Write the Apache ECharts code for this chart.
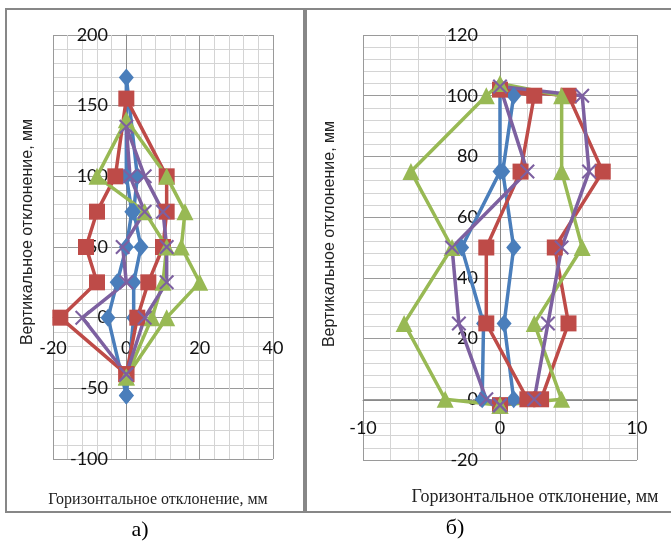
<!DOCTYPE html>
<html>
<head>
<meta charset="utf-8">
<script src="https://cdn.jsdelivr.net/npm/echarts@6/dist/echarts.min.js"></script>
<style>
  html, body { margin: 0; padding: 0; background: #fff; }
  #chart { width: 671px; height: 542px; }
</style>
</head>
<body>
<div id="chart"></div>
<script>
// а) — points go: bottom, left side up, top, right side down, back to bottom
var aBlue   = [[0,-55],[-5,0],[-2.5,25],[0,50],[1.5,75],[0,100],[0,170],[3,100],[2,75],[4,50],[2,25],[2,0],[0,-55]];
var aRed    = [[0,-40],[-18,0],[-8,25],[-11,50],[-8,75],[-3,100],[0,155],[11,100],[11,75],[10,50],[6,25],[3,0],[0,-40]];
var aGreen  = [[0,-42],[7,0],[10,25],[11,50],[5,75],[-8,100],[0,140],[11,100],[16,75],[15,50],[20,25],[11,0],[0,-42]];
var aPurple = [[0,-40],[-12,0],[0,25],[-1,50],[5,75],[1,100],[0,135],[5,100],[10,75],[11,50],[11,25],[5,0],[0,-40]];

// б)
var bBlue   = [[0,-2],[-1.3,0],[-1.2,25],[-2.8,50],[0,75],[0,103],[1,100],[0.2,75],[1,50],[0.3,25],[1,0],[0,-2]];
var bRed    = [[0,-2],[2,0],[-1,25],[-1,50],[1.5,75],[2.5,100],[0,102],[5,100],[7.5,75],[4,50],[5,25],[3,0],[0,-2]];
var bGreen  = [[0,-2],[-4,0],[-7,25],[-3.5,50],[-6.5,75],[-1,100],[0,104],[4.5,100],[4.5,75],[6,50],[2.5,25],[4.5,0],[0,-2]];
var bPurple = [[0,-2],[-1,0],[-3,25],[-3.5,50],[2,75],[0,103],[6,100],[6.5,75],[4.5,50],[3.5,25],[2.5,0],[0,-2]];

var xTitle = "Горизонтальное отклонение, мм";
var yTitle = "Вертикальное отклонение, мм";

var chart = echarts.init(document.getElementById("chart"));

var crossMark = "path://M0,1 L1,0 L5,4 L9,0 L10,1 L6,5 L10,9 L9,10 L5,6 L1,10 L0,9 L4,5 Z";

function mk(data, color, symbol, size, idx) {
  return {
    type: "line",
    xAxisIndex: idx,
    yAxisIndex: idx,
    data: data,
    symbol: symbol,
    symbolSize: size,
    showAllSymbol: true,
    lineStyle: { color: color, width: 3.5 },
    itemStyle: { color: color },
    animation: false,
    silent: true,
  };
}

// оси: положение нуля задаём через offset
function ax(idx, min, max, interval, margin, offset, pos) {
  return {
    type: "value",
    gridIndex: idx,
    position: pos,
    offset: offset,
    min: min,
    max: max,
    interval: interval,
    axisLine: { onZero: false, lineStyle: { color: "#8a8a8a", width: 1 } },
    axisTick: { show: false },
    axisLabel: {
      color: "#111",
      fontFamily: "Lato",
      fontSize: 18,
      margin: margin,
      showMinLabel: true,
      showMaxLabel: true,
    },
    splitLine: { show: true, lineStyle: { color: "#9a9a9a", width: 1 } },
    minorTick: { show: false, splitNumber: 5 },
    minorSplitLine: { show: true, lineStyle: { color: "#d4d4d4", width: 1 } },
  };
}

var opt = {
  backgroundColor: "#fff",
  animation: false,
  grid: [
    { left: 53, top: 35, width: 220, height: 424, show: false, outerBoundsMode: "none", containLabel: false },
    { left: 363, top: 35, width: 274, height: 425, show: false, outerBoundsMode: "none", containLabel: false },
  ],
  xAxis: [
    ax(0, -20, 40, 20, 22, -142, "bottom"),
    ax(1, -10, 10, 10, 19, -60, "bottom"),
  ],
  yAxis: [
    ax(0, -100, 200, 50, 18, -73, "left"),
    ax(1, -20, 120, 20, 22, -137, "left"),
  ],
  series: [
    mk(aBlue, "#4a7ebb", "diamond", [15, 18], 0),
    mk(aRed, "#be4b48", "rect", 16, 0),
    mk(aGreen, "#98b954", "triangle", 17, 0),
    mk(aPurple, "#7d60a0", crossMark, 15, 0),
    mk(bBlue, "#4a7ebb", "diamond", [15, 18], 1),
    mk(bRed, "#be4b48", "rect", 16, 1),
    mk(bGreen, "#98b954", "triangle", 17, 1),
    mk(bPurple, "#7d60a0", crossMark, 15, 1),
  ],
  graphic: [
    // рамки
    { type: "rect", shape: { x: 6, y: 9, width: 299, height: 503 }, style: { fill: "none", stroke: "#878787", lineWidth: 2 }, z: 100 },
    { type: "rect", shape: { x: 306, y: 9, width: 370, height: 503 }, style: { fill: "none", stroke: "#878787", lineWidth: 2 }, z: 100 },
    { type: "rect", shape: { x: 303, y: 9, width: 4, height: 503 }, style: { fill: "#878787" }, z: 100 },
    // подписи осей
    { type: "text", x: 28, y: 232, rotation: Math.PI / 2,
      style: { text: yTitle, font: "16px 'Liberation Sans'", fill: "#222", align: "center", verticalAlign: "middle" } },
    { type: "text", x: 330, y: 234, rotation: Math.PI / 2,
      style: { text: yTitle, font: "16px 'Liberation Sans'", fill: "#222", align: "center", verticalAlign: "middle" } },
    { type: "text", x: 158, y: 500,
      style: { text: xTitle, font: "16px 'Liberation Serif'", fill: "#222", align: "center", verticalAlign: "middle" } },
    { type: "text", x: 535, y: 497,
      style: { text: xTitle, font: "18px 'Liberation Serif'", fill: "#222", align: "center", verticalAlign: "middle" } },
    // а) б)
    { type: "text", x: 140, y: 530,
      style: { text: "а)", font: "22px 'Liberation Serif'", fill: "#000", align: "center", verticalAlign: "middle" } },
    { type: "text", x: 455, y: 528,
      style: { text: "б)", font: "22px 'Liberation Serif'", fill: "#000", align: "center", verticalAlign: "middle" } },
  ],
};

chart.setOption(opt);
</script>
</body>
</html>
